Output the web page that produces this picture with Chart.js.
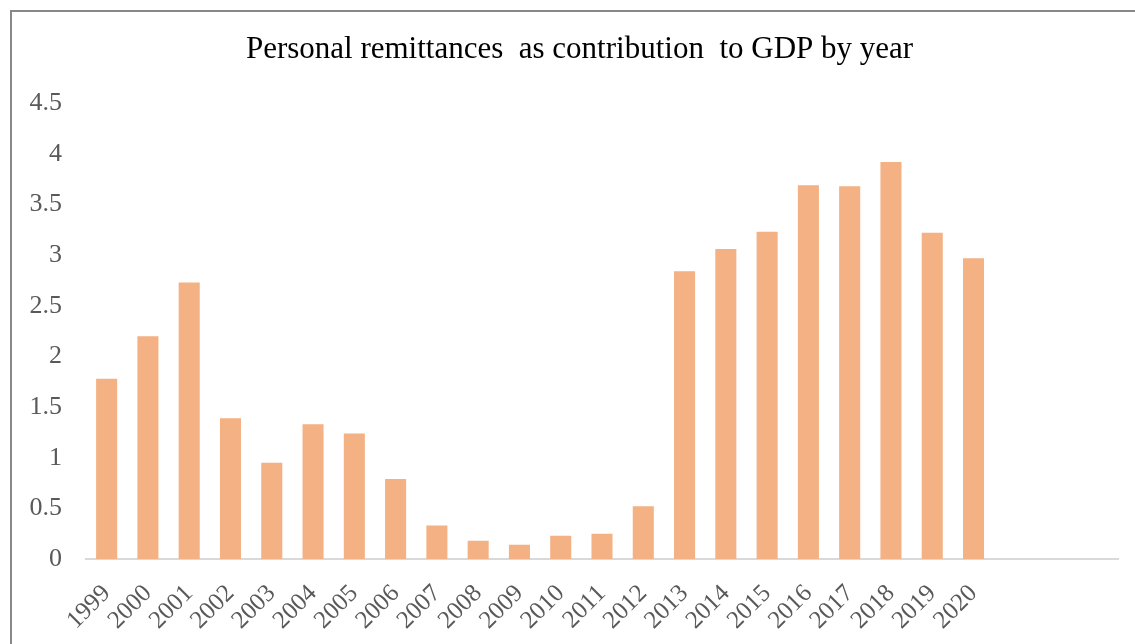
<!DOCTYPE html>
<html>
<head>
<meta charset="utf-8">
<script src="https://cdn.jsdelivr.net/npm/chart.js@4"></script>
<style>
  html, body { margin: 0; padding: 0; background: #fff; }
  #wrap { position: relative; width: 1135px; height: 644px; overflow: hidden; }
  #frame { position: absolute; left: 10px; top: 10px; width: 1200px; height: 700px;
           border-left: 2px solid #888; border-top: 2px solid #888; }
  canvas { position: absolute; left: 0; top: 0; }
</style>
</head>
<body>
<div id="wrap">
  <div id="frame"></div>
  <canvas id="myChart" width="1135" height="644"></canvas>
</div>
<script>
// years shown on the x axis, plus 3 empty slots at the end like the original
let years = ['1999','2000','2001','2002','2003','2004','2005','2006','2007','2008','2009',
             '2010','2011','2012','2013','2014','2015','2016','2017','2018','2019','2020','','','']
// remittances, % of GDP
let remittances = [1.78, 2.20, 2.73, 1.39, 0.95, 1.33, 1.24, 0.79, 0.33, 0.18, 0.14,
                   0.23, 0.25, 0.52, 2.84, 3.06, 3.23, 3.69, 3.68, 3.92, 3.22, 2.97]
let yTicks = [0, 0.5, 1, 1.5, 2, 2.5, 3, 3.5, 4, 4.5]

let serif = '"Liberation Serif", "Times New Roman", serif'

// nudge the title centre right, the original is centred on the inner frame
let titleShift = {
    id: 'titleShift',
    afterLayout(chart) {
        if (chart.titleBlock) chart.titleBlock.left += 41
    }
}

let ctx = document.getElementById('myChart').getContext('2d')
let myChart = new Chart(ctx, {
    type: 'bar',
    data: {
        labels: years,
        datasets: [{
            label: 'Remittances',
            data: remittances,
            backgroundColor: '#F4B183',
            borderWidth: 0,
            categoryPercentage: 1,
            barPercentage: 0.51
        }]
    },
    plugins: [titleShift],
    options: {
        responsive: false,
        animation: false,
        layout: { padding: { left: 0, right: 17, top: 0, bottom: 0 } },
        plugins: {
            legend: { display: false },
            tooltip: { enabled: false },
            title: {
                display: true,
                text: 'Personal remittances  as contribution  to GDP by year',
                color: '#000',
                font: { family: serif, size: 31, weight: 'normal', lineHeight: 1.2 },
                padding: { top: 31, bottom: 35 }
            }
        },
        scales: {
            x: {
                grid: { display: false, drawTicks: false },
                border: { display: true, color: '#D9D9D9', width: 2 },
                ticks: {
                    color: '#595959',
                    autoSkip: false,
                    minRotation: 45,
                    maxRotation: 45,
                    padding: 20,
                    font: { family: serif, size: 25 }
                },
                afterFit: s => { s.height = 85; s.paddingRight = 0 }
            },
            y: {
                min: 0,
                max: 4.5,
                grid: { display: false, drawTicks: false },
                border: { display: false },
                afterBuildTicks: s => { s.ticks = yTicks.map(v => ({ value: v })) },
                ticks: {
                    color: '#595959',
                    padding: 24,
                    font: { family: serif, size: 26 },
                    callback: v => String(v)
                },
                afterFit: s => { s.width = 86 }
            }
        }
    }
})
</script>
</body>
</html>
